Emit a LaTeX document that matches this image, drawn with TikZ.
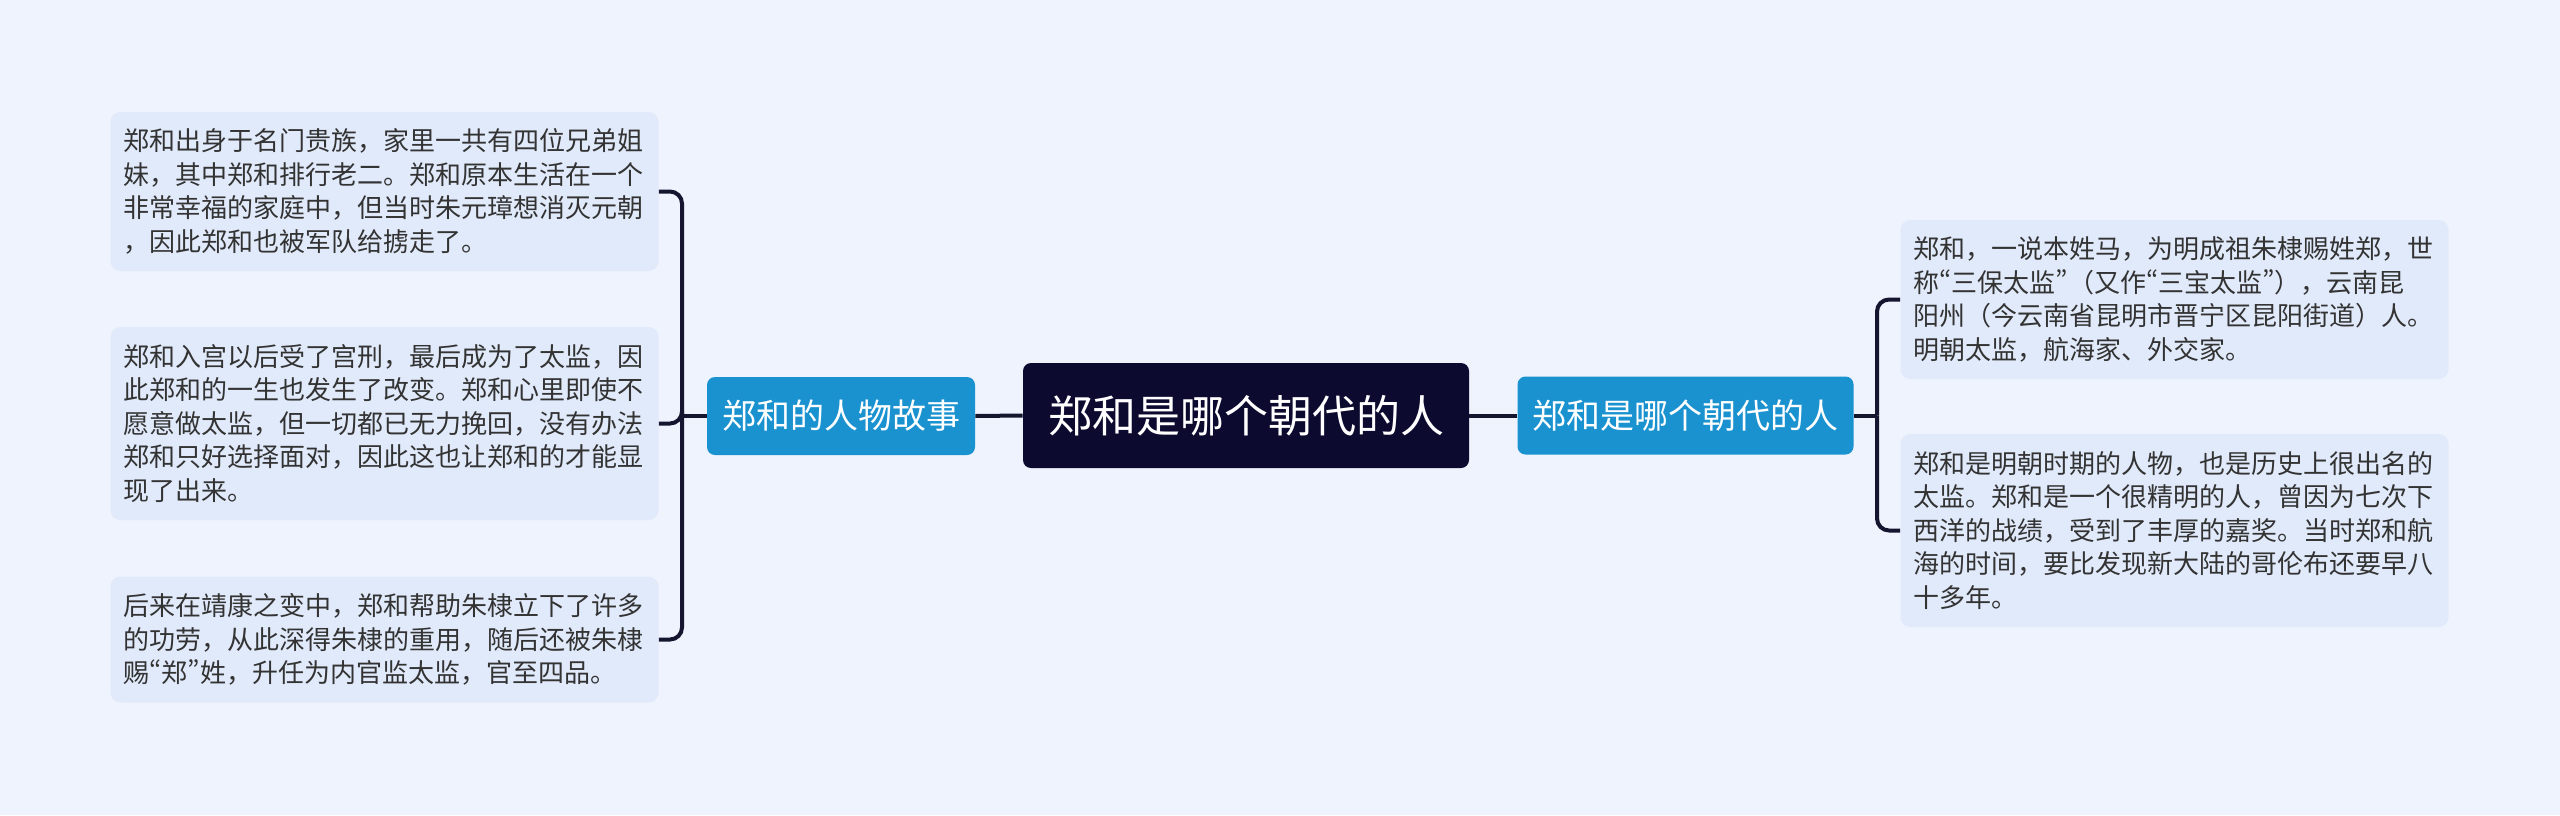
\documentclass[tikz,border=0pt]{standalone}
\usepackage{fontspec}
\setmainfont{Noto Sans CJK SC}
\newcommand\qo{{\addfontfeatures{RawFeature=+pwid}“}}
\newcommand\qc{{\addfontfeatures{RawFeature=+pwid}”}}
\definecolor{bgblue}{HTML}{EEF3FD}
\definecolor{leafblue}{HTML}{E1EAFA}
\definecolor{leafgray}{HTML}{333333}
\definecolor{branchblue}{HTML}{1A92D0}
\definecolor{rootnavy}{HTML}{0C0A2F}
\definecolor{linknavy}{HTML}{16152F}

\begin{document}
\begin{tikzpicture}[x=0.5pt,y=-0.5pt,
    leaf/.style={fill=leafblue,rounded corners=5pt,text=leafgray,align=left,
        text width=261pt,inner xsep=6.5pt,inner ysep=0pt,
        font=\fontsize{13pt}{16.75pt}\selectfont},
    branch/.style={fill=branchblue,rounded corners=4pt,text=white,
        inner xsep=7.5pt,minimum height=39pt,font=\fontsize{17pt}{20pt}\selectfont},
    root/.style={fill=rootnavy,rounded corners=4pt,text=white,
        inner xsep=12.5pt,minimum height=52.5pt,font=\fontsize{22pt}{26pt}\selectfont},
    link/.style={draw=linknavy,line width=2pt,rounded corners=6pt}]
    \fill[bgblue] (0,0) rectangle (2560,815);

    \node[root] (root) at (1246,415.5) {郑和是哪个朝代的人};
    \node[branch] (lb) at (841,416) {郑和的人物故事};
    \node[branch] (rb) at (1685.5,415.5) {郑和是哪个朝代的人};

    \node[leaf,minimum height=79.5pt] (l1) at (384.5,191.5)
        {郑和出身于名门贵族，家里一共有四位兄弟姐\\%
         妹，其中郑和排行老二。郑和原本生活在一个\\%
         非常幸福的家庭中，但当时朱元璋想消灭元朝\\%
         ，因此郑和也被军队给掳走了。};
    \node[leaf,minimum height=96.5pt] (l2) at (384.5,423.5)
        {郑和入宫以后受了宫刑，最后成为了太监，因\\%
         此郑和的一生也发生了改变。郑和心里即使不\\%
         愿意做太监，但一切都已无力挽回，没有办法\\%
         郑和只好选择面对，因此这也让郑和的才能显\\%
         现了出来。};
    \node[leaf,minimum height=63pt] (l3) at (384.5,639.5)
        {后来在靖康之变中，郑和帮助朱棣立下了许多\\%
         的功劳，从此深得朱棣的重用，随后还被朱棣\\%
         赐\qo 郑\qc 姓，升任为内官监太监，官至四品。};

    \node[leaf,minimum height=79.5pt] (r1) at (2174.5,299.5)
        {郑和，一说本姓马，为明成祖朱棣赐姓郑，世\\%
         称\qo 三保太监\qc （又作\qo 三宝太监\qc ），云南昆\\%
         阳州（今云南省昆明市晋宁区昆阳街道）人。\\%
         明朝太监，航海家、外交家。};
    \node[leaf,minimum height=96.5pt] (r2) at (2174.5,530.5)
        {郑和是明朝时期的人物，也是历史上很出名的\\%
         太监。郑和是一个很精明的人，曾因为七次下\\%
         西洋的战绩，受到了丰厚的嘉奖。当时郑和航\\%
         海的时间，要比发现新大陆的哥伦布还要早八\\%
         十多年。};

    \draw[link] (root.west) -- (lb.east);
    \draw[link] (root.east) -- (rb.west);

    \coordinate (lfork) at (682,416);
    \coordinate (rfork) at (1877,415.5);
    \draw[link] (lb.west) -- (lfork);
    \draw[link] (rb.east) -- (rfork);
    \foreach \n in {l1,l2,l3}{
        \draw[link] (lfork) |- (\n.east);
    }
    \foreach \n in {r1,r2}{
        \draw[link] (rfork) |- (\n.west);
    }
\end{tikzpicture}
\end{document}
